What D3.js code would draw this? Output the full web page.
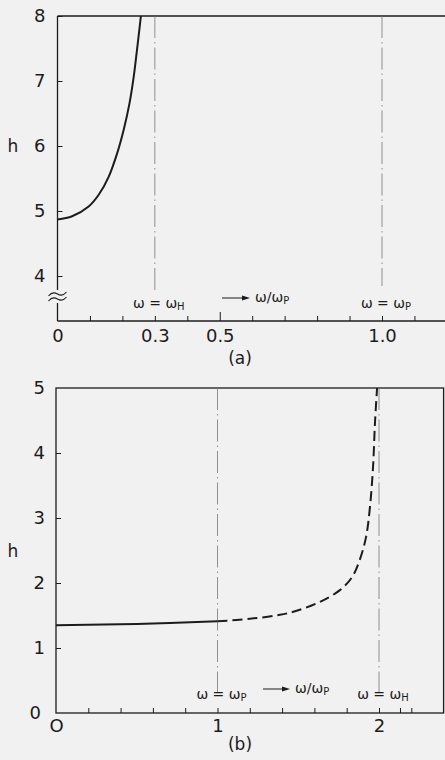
<!DOCTYPE html>
<html>
<head>
<meta charset="utf-8">
<script src="https://cdn.jsdelivr.net/npm/d3@7/dist/d3.min.js"></script>
<style>
  html, body { margin: 0; padding: 0; background: #f1f1f1; }
  svg { display: block; }
  text { font-family: "DejaVu Sans", sans-serif; fill: #1c1c1c; }
  .tick text { font-size: 18px; }
</style>
</head>
<body>
<svg id="vis" width="445" height="760"></svg>
<script>
// panel (a): h vs omega/omega_p, curve ends at top of axis
const curveA = [
  [0, 4.87], [0.045, 4.92], [0.096, 5.07], [0.127, 5.25], [0.158, 5.53],
  [0.184, 5.89], [0.204, 6.25], [0.222, 6.66], [0.235, 7.07], [0.245, 7.48],
  [0.252, 7.78], [0.257, 8.0]
];
const xTicksA = [0, 0.1, 0.2, 0.3, 0.4, 0.5, 0.6, 0.7, 0.8, 0.9, 1.0, 1.1];
const xLabelsA = { 0: "0", 0.3: "0.3", 0.5: "0.5", 1.0: "1.0" };
const yTicksA = [4, 5, 6, 7, 8];
const markersA = [
  { x: 0.3, label: "ω = ω", sub: "H" },
  { x: 1.0, label: "ω = ω", sub: "P" }
];

// panel (b): solid part up to omega_p, dashed beyond
const curveBSolid = [[0, 1.35], [0.5, 1.37], [1.0, 1.41]];
const curveBDashed = [
  [1.0, 1.41], [1.2, 1.45], [1.387, 1.51], [1.5, 1.58], [1.635, 1.71],
  [1.758, 1.89], [1.833, 2.09], [1.88, 2.35], [1.92, 2.71], [1.944, 3.17],
  [1.963, 3.78], [1.975, 4.46], [1.988, 5.0]
];
const xTicksB = [0, 0.2, 0.4, 0.6, 0.8, 1.0, 1.2, 1.4, 1.6, 1.8, 2.0, 2.13, 2.2];
const xLabelsB = { 0: "O", 1: "1", 2: "2" };
const yTicksB = [0, 1, 2, 3, 4, 5];
const markersB = [
  { x: 1.0, label: "ω = ω", sub: "P" },
  { x: 2.0, label: "ω = ω", sub: "H" }
];

const svg = d3.select("#vis");
const ink = "#1c1c1c";

function omegaLabel(g, x, y, m) {
  const t = g.append("text")
    .attr("x", x).attr("y", y)
    .attr("text-anchor", "middle")
    .style("font-size", "14px");
  t.append("tspan").text(m.label);
  t.append("tspan").attr("dy", 2).style("font-size", "10px").text(m.sub);
}

function arrowLabel(g, x0, x1, y) {
  g.append("line")
    .attr("x1", x0).attr("x2", x1).attr("y1", y).attr("y2", y)
    .attr("stroke", ink).attr("stroke-width", 1);
  g.append("path")
    .attr("d", `M${x1 + 5},${y} L${x1 - 3},${y - 2.5} L${x1 - 3},${y + 2.5} Z`)
    .attr("fill", ink);
  const t = g.append("text")
    .attr("x", x1 + 10).attr("y", y + 4)
    .style("font-size", "14px");
  t.append("tspan").text("ω/ω");
  t.append("tspan").attr("dy", 2).style("font-size", "10px").text("P");
}

// ---------- panel (a) ----------
const xa = d3.scaleLinear().domain([0, 1]).range([57.5, 382]);
const ya = d3.scaleLinear().domain([4, 8]).range([276, 16]);
const axisYa = 321;
const gA = svg.append("g");

// frame: top line, left axis with break
gA.append("line")
  .attr("x1", xa(0)).attr("x2", 445).attr("y1", ya(8)).attr("y2", ya(8))
  .attr("stroke", ink).attr("stroke-width", 1.4);
gA.append("line")
  .attr("x1", xa(0)).attr("x2", xa(0)).attr("y1", ya(8)).attr("y2", 290)
  .attr("stroke", ink).attr("stroke-width", 1.3);
gA.append("line")
  .attr("x1", xa(0)).attr("x2", xa(0)).attr("y1", 303).attr("y2", axisYa)
  .attr("stroke", ink).attr("stroke-width", 1.3);
// break symbol
[294, 299].forEach(yy => {
  gA.append("path")
    .attr("d", `M${xa(0) - 9},${yy + 2} q4,-5 9,-2 t9,-2`)
    .attr("fill", "none").attr("stroke", ink).attr("stroke-width", 1.1);
});

// x axis
gA.append("g")
  .attr("transform", `translate(0,${axisYa})`)
  .call(d3.axisBottom(xa).tickValues(xTicksA).tickSizeInner(-5).tickSizeOuter(0)
    .tickPadding(8).tickFormat(d => xLabelsA[d] || ""))
  .call(g => g.select(".domain").remove())
  .call(g => g.selectAll(".tick line").attr("stroke", ink).attr("stroke-width", 1)
    .filter(d => d === 0.5).attr("y2", -9))
  .call(g => g.selectAll(".tick line").filter(d => d === 0).remove());
gA.append("line")
  .attr("x1", xa(0)).attr("x2", 445).attr("y1", axisYa).attr("y2", axisYa)
  .attr("stroke", ink).attr("stroke-width", 1.4);

// y axis ticks/labels
gA.append("g")
  .attr("transform", `translate(${xa(0)},0)`)
  .call(d3.axisLeft(ya).tickValues(yTicksA).tickSizeInner(-5).tickSizeOuter(0)
    .tickPadding(12).tickFormat(d3.format("d")))
  .call(g => g.select(".domain").remove())
  .call(g => g.selectAll(".tick line").attr("stroke", ink).attr("stroke-width", 1));

gA.append("text").attr("x", 13).attr("y", ya(6) + 6)
  .attr("text-anchor", "middle").style("font-size", "17px").text("h");

// marker lines
markersA.forEach((m, i) => {
  gA.append("line")
    .attr("x1", xa(m.x)).attr("x2", xa(m.x))
    .attr("y1", ya(8)).attr("y2", i === 0 ? 290 : 286)
    .attr("stroke", "#777").attr("stroke-width", 0.8)
    .attr("stroke-dasharray", "22,4,1.5,4");
  omegaLabel(gA, xa(m.x) + 4, 308, m);
});
arrowLabel(gA, 222, 245, 298);

gA.append("path")
  .datum(curveA)
  .attr("d", d3.line().x(d => xa(d[0])).y(d => ya(d[1])).curve(d3.curveCatmullRom.alpha(0.5)))
  .attr("fill", "none").attr("stroke", ink).attr("stroke-width", 2);

gA.append("text").attr("x", 240).attr("y", 364)
  .attr("text-anchor", "middle").style("font-size", "17px").text("(a)");

// ---------- panel (b) ----------
const xb = d3.scaleLinear().domain([0, 2]).range([56, 379]);
const yb = d3.scaleLinear().domain([0, 5]).range([713, 388]);
const gB = svg.append("g");

gB.append("rect")
  .attr("x", xb(0)).attr("y", yb(5))
  .attr("width", xb(2.4) - xb(0)).attr("height", yb(0) - yb(5))
  .attr("fill", "none").attr("stroke", ink).attr("stroke-width", 1.3);

gB.append("g")
  .attr("transform", `translate(0,${yb(0)})`)
  .call(d3.axisBottom(xb).tickValues(xTicksB).tickSizeInner(-5).tickSizeOuter(0)
    .tickPadding(6).tickFormat(d => xLabelsB[d] || ""))
  .call(g => g.select(".domain").remove())
  .call(g => g.selectAll(".tick line").attr("stroke", ink).attr("stroke-width", 1))
  .call(g => g.selectAll(".tick line").filter(d => d === 0).remove());

gB.append("g")
  .attr("transform", `translate(${xb(0)},0)`)
  .call(d3.axisLeft(yb).tickValues(yTicksB).tickSizeInner(-5).tickSizeOuter(0)
    .tickPadding(11).tickFormat(d3.format("d")))
  .call(g => g.select(".domain").remove())
  .call(g => g.selectAll(".tick line").attr("stroke", ink).attr("stroke-width", 1))
  .call(g => g.selectAll(".tick").filter(d => d === 0 || d === 5).select("line").remove())
  .call(g => g.selectAll(".tick").filter(d => d === 0).select("text").attr("x", -15));

gB.append("text").attr("x", 13).attr("y", yb(2.5) + 6)
  .attr("text-anchor", "middle").style("font-size", "17px").text("h");

markersB.forEach(m => {
  gB.append("line")
    .attr("x1", xb(m.x)).attr("x2", xb(m.x))
    .attr("y1", yb(5)).attr("y2", 692)
    .attr("stroke", "#777").attr("stroke-width", 0.8)
    .attr("stroke-dasharray", "22,4,1.5,4");
  omegaLabel(gB, xb(m.x) + 4, 699, m);
});
arrowLabel(gB, 263, 285, 689);

const lineB = d3.line().x(d => xb(d[0])).y(d => yb(d[1])).curve(d3.curveCatmullRom.alpha(0.5));
gB.append("path").datum(curveBSolid).attr("d", lineB)
  .attr("fill", "none").attr("stroke", ink).attr("stroke-width", 2);
gB.append("path").datum(curveBDashed).attr("d", lineB)
  .attr("fill", "none").attr("stroke", ink).attr("stroke-width", 2)
  .attr("stroke-dasharray", "10,5");

gB.append("text").attr("x", 240).attr("y", 750)
  .attr("text-anchor", "middle").style("font-size", "17px").text("(b)");
</script>
</body>
</html>
